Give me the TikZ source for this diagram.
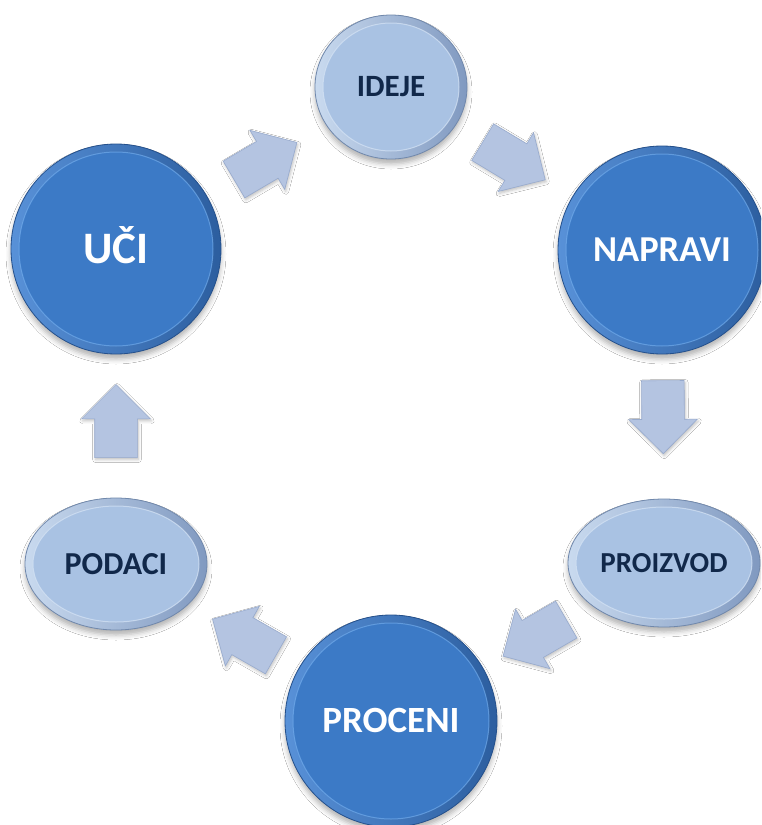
\documentclass[tikz,border=0pt]{standalone}
\usepackage{fontspec}
\setmainfont{Carlito}
\usetikzlibrary{shapes.geometric, shapes.arrows, calc, shadows.blur}

\definecolor{darkfill}{HTML}{3C7AC6}
\definecolor{darkhi}{HTML}{5891D8}
\definecolor{darklo}{HTML}{2C5E9F}
\definecolor{darkline}{HTML}{24508C}
\definecolor{darkedge}{HTML}{78B2F0}
\definecolor{lightfill}{HTML}{A9C2E3}
\definecolor{lighthi}{HTML}{C9DAEF}
\definecolor{lightlo}{HTML}{8099C0}
\definecolor{lightline}{HTML}{7088AC}
\definecolor{lightedge}{HTML}{D6E4F5}
\definecolor{navytext}{HTML}{11284A}
\definecolor{arrowfill}{HTML}{B4C4E1}
\definecolor{arrowline}{HTML}{97AACD}

\tikzset{
  bubble/.style={ellipse, inner sep=0pt, line width=0.8pt,
    blur shadow={shadow xshift=0pt, shadow yshift=-5pt,
                 shadow blur radius=5pt, shadow opacity=30}},
  darkbubble/.style={bubble, draw=darkline, left color=darkhi,
    right color=darklo, text=white},
  lightbubble/.style={bubble, draw=lightline, left color=lighthi,
    right color=lightlo, text=navytext},
  darkbubbleinner/.style={fill=darkfill, draw=darkedge, line width=1pt,
    draw opacity=0.6},
  lightbubbleinner/.style={fill=lightfill, draw=lightedge, line width=1pt,
    draw opacity=0.7},
  flowarrow/.style={single arrow, draw=arrowline, fill=arrowfill,
    line width=0.6pt, inner xsep=0pt, inner ysep=21pt,
    single arrow head extend=13pt, minimum height=73pt,
    blur shadow={shadow xshift=1pt, shadow yshift=-2pt,
                 shadow blur radius=3pt, shadow opacity=25}},
}

% bevelled bubble: style, name, x, y, rx, ry, font size, label
\newcommand\bubblenode[8]{%
  \node[#1, minimum width=#5pt*2, minimum height=#6pt*2,
    font=\fontsize{#7}{#7}\selectfont\bfseries,
    text height=#7pt*0.64, text depth=0pt,
    path picture={\filldraw[#1inner] (path picture bounding box.center)
      ellipse [x radius=#5pt-8pt, y radius=#6pt-8pt];}]
    (#2) at (#3,#4) {#8};}

% block arrow: name, from node, to node, position along the line
\newcommand\flowarrow[4]{%
  \path let \p1=($(#3)-(#2)$), \n1={atan2(\y1,\x1)} in
    node[flowarrow, rotate=\n1] (#1) at ($(#2)!#4!(#3)$) {};}

\begin{document}
\begin{tikzpicture}[x=1pt, y=-1pt]
  \useasboundingbox (0,0) rectangle (761,825);
  \fill[white] (0,0) rectangle (761,825);
  \clip (0,0) rectangle (761,825);

  \bubblenode{lightbubble}{ideje}{391}{87}{76}{72}{31}{IDEJE}
  \bubblenode{darkbubble}{uci}{116}{249}{105}{105}{45}{UČI}
  \bubblenode{darkbubble}{napravi}{662}{250}{104}{104}{36.5}{NAPRAVI}
  \bubblenode{lightbubble}{proizvod}{664}{563}{96}{64}{29}{PROIZVOD}
  \bubblenode{darkbubble}{proceni}{391}{721}{106}{106}{37}{PROCENI}
  \bubblenode{lightbubble}{podaci}{116}{564}{91}{66}{32}{PODACI}

  \flowarrow{a1}{uci}{ideje}{0.51}
  \flowarrow{a2}{ideje}{napravi}{0.42}
  \flowarrow{a3}{napravi}{proizvod}{0.50}
  \flowarrow{a4}{proizvod}{proceni}{0.44}
  \flowarrow{a5}{proceni}{podaci}{0.50}
  \flowarrow{a6}{podaci}{uci}{0.42}
\end{tikzpicture}
\end{document}
